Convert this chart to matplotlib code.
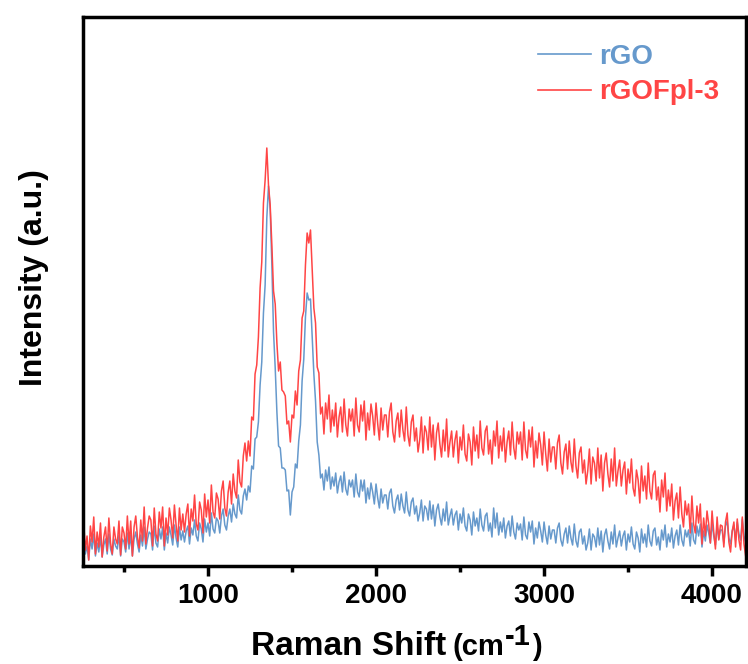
import matplotlib
matplotlib.use("Agg")
import matplotlib.pyplot as plt
import numpy as np
from matplotlib.ticker import MultipleLocator

plt.rcParams['font.family'] = ['Liberation Sans', 'DejaVu Sans']
plt.rcParams['font.weight'] = 'bold'

# Raman shift grid (cm-1), 10 cm-1 step, 260 .. 4200
shift = np.arange(260, 4201, 10)

# intensities (arbitrary units)
rgo = [
    29, 12, 20, 6, 27, 17, 32, 10, 23, 14, 29, 9, 21, 27, 12, 32, 17, 11, 27, 20,
    17, 31, 10, 27, 24, 14, 33, 17, 31, 10, 27, 34, 22, 14, 31, 20, 39, 17, 27, 34,
    32, 16, 40, 23, 19, 37, 27, 39, 16, 33, 23, 39, 31, 21, 41, 28, 19, 39, 26, 35,
    24, 35, 40, 22, 38, 31, 46, 30, 25, 43, 37, 24, 47, 34, 43, 30, 53, 37, 33, 48,
    45, 33, 50, 57, 41, 36, 50, 57, 44, 62, 52, 48, 71, 56, 52, 70, 77, 66, 80, 74,
    100, 97, 127, 129, 144, 181, 204, 253, 281, 348, 380, 357, 302, 234, 198, 154, 120, 118, 98, 98,
    96, 75, 76, 51, 74, 79, 102, 98, 125, 141, 185, 207, 249, 273, 266, 267, 229, 192, 165, 124,
    111, 88, 92, 76, 96, 85, 99, 77, 89, 80, 93, 73, 84, 90, 74, 94, 77, 71, 86, 79,
    86, 69, 92, 74, 69, 86, 75, 86, 63, 78, 67, 83, 74, 62, 82, 68, 58, 77, 63, 71,
    71, 57, 73, 77, 60, 53, 66, 71, 56, 72, 60, 53, 74, 56, 50, 64, 68, 52, 60, 45,
    53, 66, 45, 60, 57, 46, 65, 47, 61, 40, 56, 62, 49, 41, 57, 45, 64, 41, 50, 57,
    41, 51, 55, 36, 52, 43, 58, 40, 35, 52, 46, 31, 54, 40, 48, 35, 57, 41, 35, 50,
    53, 35, 43, 29, 58, 38, 53, 31, 44, 34, 48, 28, 40, 45, 30, 50, 34, 27, 43, 36,
    42, 26, 49, 31, 27, 44, 34, 45, 22, 38, 28, 44, 35, 24, 44, 31, 22, 40, 27, 36,
    36, 23, 38, 43, 26, 20, 32, 38, 23, 40, 28, 21, 42, 25, 19, 34, 37, 22, 30, 16,
    23, 37, 16, 32, 29, 19, 38, 21, 35, 14, 31, 37, 25, 17, 34, 22, 41, 19, 28, 35,
    20, 30, 35, 16, 32, 24, 39, 22, 17, 34, 28, 14, 37, 23, 32, 19, 41, 25, 20, 35,
    38, 21, 29, 16, 36, 26, 41, 19, 32, 24, 38, 18, 30, 36, 21, 41, 26, 20, 36, 29,
    36, 20, 43, 26, 22, 40, 30, 42, 19, 35, 25, 41, 33, 23, 43, 30, 21, 40, 27, 36,
    36, 23, 40, 45, 28, 22, 35, 41, 26, 44, 32, 26, 47, 30, 24,
]

rgofpl3 = [
    44, 16, 30, 6, 40, 24, 49, 12, 34, 19, 43, 9, 29, 39, 15, 48, 23, 12, 39, 27,
    22, 45, 11, 39, 33, 17, 50, 22, 45, 10, 39, 50, 29, 18, 46, 25, 59, 22, 38, 50,
    46, 20, 58, 32, 25, 54, 38, 59, 20, 48, 31, 58, 46, 28, 61, 41, 25, 58, 36, 52,
    34, 52, 62, 30, 57, 45, 71, 42, 36, 64, 56, 33, 72, 49, 66, 43, 81, 54, 48, 73,
    67, 47, 75, 85, 58, 50, 74, 85, 62, 92, 75, 68, 106, 84, 79, 110, 123, 105, 125, 110,
    149, 146, 192, 201, 229, 278, 304, 363, 386, 418, 381, 361, 321, 275, 262, 223, 195, 204, 176, 174,
    170, 142, 145, 124, 151, 148, 175, 161, 195, 206, 248, 255, 301, 333, 323, 336, 296, 258, 243, 199,
    193, 152, 159, 132, 163, 147, 171, 134, 156, 140, 163, 129, 149, 159, 134, 167, 141, 130, 157, 145,
    157, 130, 168, 141, 134, 161, 145, 165, 126, 153, 136, 162, 150, 131, 163, 142, 126, 158, 136, 151,
    151, 129, 154, 163, 134, 124, 145, 153, 129, 156, 136, 125, 159, 131, 120, 144, 151, 125, 138, 114,
    126, 149, 113, 140, 134, 116, 149, 119, 141, 106, 133, 143, 122, 109, 136, 115, 147, 109, 124, 135,
    109, 126, 135, 103, 129, 116, 141, 112, 105, 132, 124, 101, 139, 115, 131, 108, 145, 118, 111, 135,
    140, 112, 126, 102, 135, 120, 145, 108, 130, 115, 138, 104, 124, 135, 111, 144, 118, 107, 134, 122,
    134, 106, 144, 116, 108, 136, 119, 139, 99, 125, 108, 133, 121, 101, 134, 112, 95, 127, 104, 119,
    119, 97, 123, 131, 103, 92, 114, 122, 97, 125, 104, 94, 127, 100, 88, 113, 119, 93, 106, 82,
    95, 117, 82, 109, 103, 85, 118, 88, 111, 75, 103, 113, 92, 79, 107, 85, 118, 80, 95, 106,
    80, 96, 104, 72, 97, 83, 107, 78, 70, 96, 86, 63, 100, 75, 90, 67, 103, 75, 67, 91,
    95, 66, 79, 54, 86, 69, 93, 55, 76, 60, 82, 46, 65, 73, 48, 79, 52, 39, 65, 51,
    62, 33, 70, 42, 33, 60, 43, 62, 22, 48, 30, 55, 42, 23, 55, 34, 17, 49, 26, 41,
    40, 19, 44, 53, 24, 14, 35, 44, 19, 47, 26, 16, 49, 22, 10,
]

W, H = 748, 664
fig = plt.figure(figsize=(W / 100, H / 100), dpi=100)
ax = fig.add_axes([83 / W, 98 / H, 663 / W, 549 / H])

ax.plot(shift, rgo, color='#6699CC', linewidth=1.1, label='rGO')
ax.plot(shift, rgofpl3, color='#FF4545', linewidth=1.1, label='rGOFpl-3')

ax.set_xlim(256, 4202)
ax.set_ylim(0, 549)

ax.set_ylabel("Intensity (a.u.)", fontsize=23, fontweight='bold')
ax.yaxis.set_label_coords(-0.052, 0.525)

ax.xaxis.set_major_locator(MultipleLocator(1000))
ax.xaxis.set_minor_locator(MultipleLocator(500))
ax.set_yticks([])
ax.tick_params(axis='x', which='major', direction='out', length=7, width=2.5,
               labelsize=20, pad=5)
ax.tick_params(axis='x', which='minor', direction='out', length=4, width=2.5)
for lab in ax.get_xticklabels():
    lab.set_fontweight('bold')

for side in ['top', 'bottom', 'left', 'right']:
    ax.spines[side].set_linewidth(2.5)

leg = ax.legend(loc='upper right', bbox_to_anchor=(0.985, 0.982), frameon=False,
                prop={'weight': 'bold', 'size': 20}, labelcolor='linecolor',
                handlelength=1.9, handletextpad=0.3, labelspacing=0.35,
                borderaxespad=0.2)
for line in leg.get_lines():
    line.set_linewidth(1.2)

# x label built from pieces: big "Raman Shift", smaller "(cm", raised "-1", ")"
renderer = fig.canvas.get_renderer()
base = 9 / H
t1 = fig.text(251 / W, base, "Raman Shift", fontsize=24, fontweight='bold', va='baseline')
x = t1.get_window_extent(renderer).x1 + 6
t2 = fig.text(x / W, base, "(cm", fontsize=21, fontweight='bold', va='baseline')
x = t2.get_window_extent(renderer).x1 + 1
t3 = fig.text(x / W, base + 10 / H, "-1", fontsize=21, fontweight='bold', va='baseline')
x = t3.get_window_extent(renderer).x1 + 1
fig.text(x / W, base, ")", fontsize=21, fontweight='bold', va='baseline')

fig.savefig("out.png", dpi=100)
